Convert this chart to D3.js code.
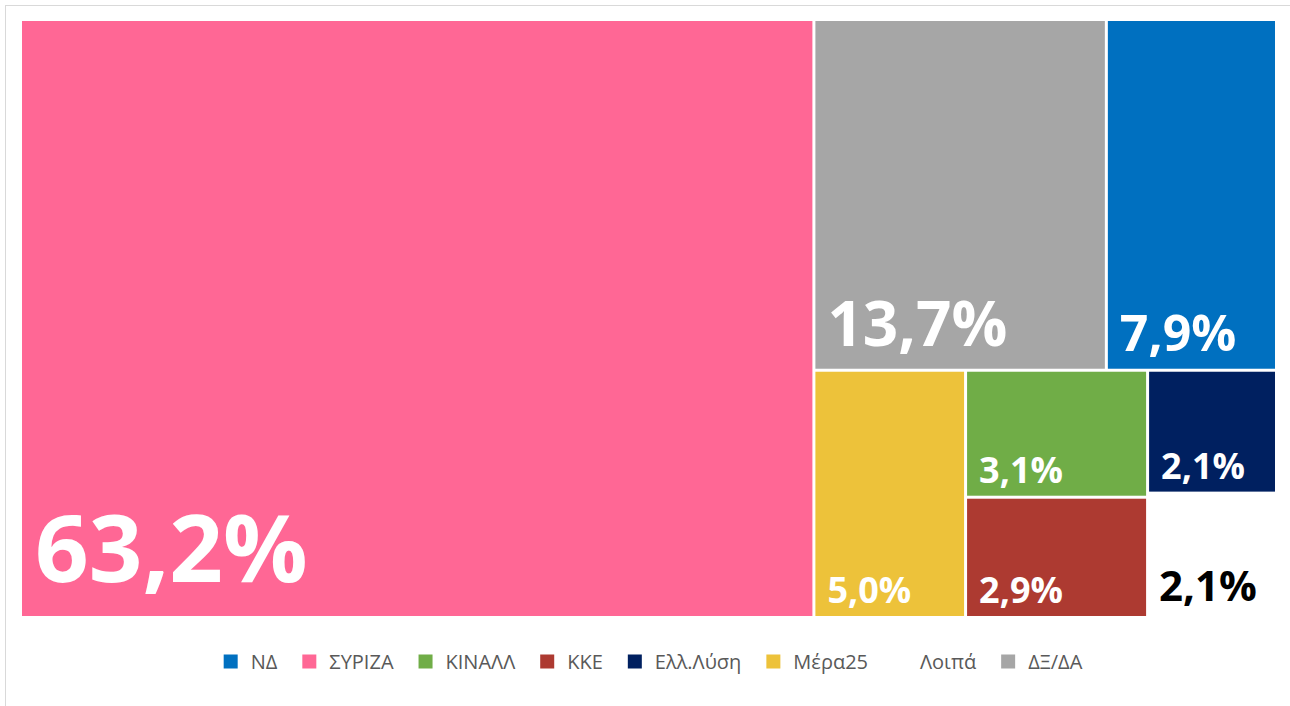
<!DOCTYPE html>
<html>
<head>
<meta charset="utf-8">
<script src="https://cdn.jsdelivr.net/npm/d3@7"></script>
<style>
  body { margin: 0; background: #fff; }
  svg { display: block; font-family: "Open Sans", "Noto Sans", sans-serif; }
</style>
</head>
<body>
<svg id="chart" width="1290" height="706"></svg>
<script>
// parties as they appear in the treemap (largest first)
var parties = ["ΣΥΡΙΖΑ", "ΔΞ/ΔΑ", "ΝΔ", "Μέρα25", "ΚΙΝΑΛΛ", "ΚΚΕ", "Ελλ.Λύση", "Λοιπά"];
var shares  = [63.2, 13.7, 7.9, 5.0, 3.1, 2.9, 2.1, 2.1];
var colors  = ["#FF6795", "#A6A6A6", "#0070C0", "#EDC23A", "#70AD47", "#AD3A31", "#002060", "#FFFFFF"];
// legend order
var legendOrder = ["ΝΔ", "ΣΥΡΙΖΑ", "ΚΙΝΑΛΛ", "ΚΚΕ", "Ελλ.Λύση", "Μέρα25", "Λοιπά", "ΔΞ/ΔΑ"];

var svg = d3.select("#chart"),
    width = +svg.attr("width"),
    height = +svg.attr("height");

// chart frame
svg.append("rect")
  .attr("x", 5.5).attr("y", 5.5)
  .attr("width", width).attr("height", height)
  .attr("fill", "none")
  .attr("stroke", "#D9D9D9");

var color = d3.scaleOrdinal().domain(parties).range(colors);

var data = {
  name: "root",
  children: parties.map(function(p, i) { return { name: p, value: shares[i] }; })
};

var root = d3.hierarchy(data)
  .sum(function(d) { return d.value || 0; })
  .sort(function(a, b) { return b.value - a.value; });

var box = { x0: 22, y0: 21, x1: 1275, y1: 616 };
var bw = box.x1 - box.x0, bh = box.y1 - box.y0;
var gap = 1.5;

d3.treemap()
  .tile(d3.treemapSquarify.ratio(1))
  .size([bw, bh])(root);

// label size follows tile size
var fontSize = d3.scaleLinear()
  .domain([5, 7.9, 13.7, 63.2])
  .range([36, 50, 62, 94])
  .clamp(true);

var fmt = function(v) { return d3.format(".1f")(v).replace(".", ",") + "%"; };

// white gaps on inner edges only
root.leaves().forEach(function(d) {
  d.rx0 = d.x0 > 0.5 ? d.x0 + gap : d.x0;
  d.ry0 = d.y0 > 0.5 ? d.y0 + gap : d.y0;
  d.rx1 = d.x1 < bw - 0.5 ? d.x1 - gap : d.x1;
  d.ry1 = d.y1 < bh - 0.5 ? d.y1 - gap : d.y1;
});

var tiles = svg.append("g")
  .attr("transform", "translate(" + box.x0 + "," + box.y0 + ")")
  .selectAll("g")
  .data(root.leaves())
  .enter().append("g")
  .attr("transform", function(d) { return "translate(" + d.rx0 + "," + d.ry0 + ")"; });

tiles.append("rect")
  .attr("width", function(d) { return d.rx1 - d.rx0; })
  .attr("height", function(d) { return d.ry1 - d.ry0; })
  .attr("fill", function(d) { return color(d.data.name); });

function labelSize(d) { return d.data.name == "Λοιπά" ? 42 : fontSize(d.value); }

tiles.append("text")
  .attr("x", function(d) { return d.data.name == "Λοιπά" ? 10 : (labelSize(d) > 80 ? 13 : 12); })
  .attr("y", function(d) { return (d.ry1 - d.ry0) - labelSize(d) * 0.36; })
  .attr("font-size", labelSize)
  .attr("font-weight", "bold")
  .attr("fill", function(d) { return d.data.name == "Λοιπά" ? "#000" : "#fff"; })
  .text(function(d) { return fmt(d.value); });

// legend
var legend = svg.append("g").attr("class", "legend");
var items = legend.selectAll("g")
  .data(legendOrder)
  .enter().append("g");

items.append("rect")
  .attr("y", -7)
  .attr("width", 14).attr("height", 14)
  .attr("fill", function(d) { return color(d); });

items.append("text")
  .attr("x", 27)
  .attr("dy", "0.35em")
  .attr("font-size", 20)
  .attr("fill", "#595959")
  .text(function(d) { return d; });

var xPos = 0;
items.each(function() {
  var g = d3.select(this);
  g.attr("transform", "translate(" + xPos + ",0)");
  xPos += 27 + g.select("text").node().getComputedTextLength() + 25;
});
xPos -= 25;
legend.attr("transform", "translate(" + (653 - xPos / 2) + ",661.5)");
</script>
</body>
</html>
